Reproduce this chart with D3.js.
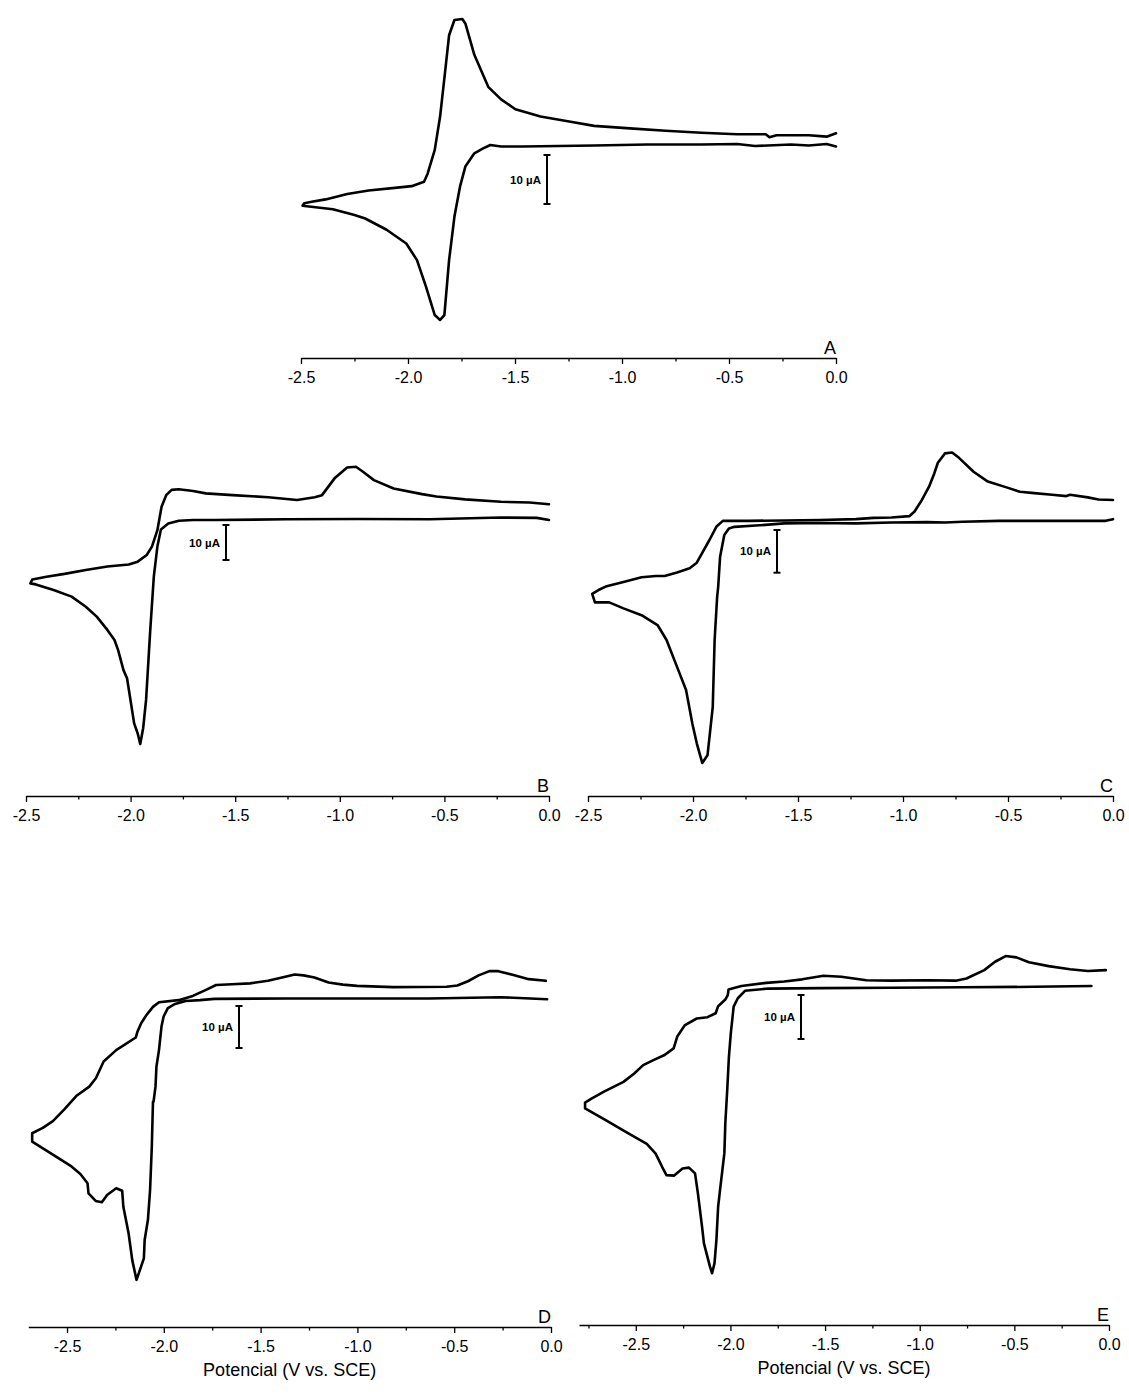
<!DOCTYPE html>
<html>
<head>
<meta charset="utf-8">
<script src="https://cdn.jsdelivr.net/npm/d3@7"></script>
<style>
  html, body { margin: 0; padding: 0; background: #fff; }
  svg { display: block; }
  text { font-family: "Liberation Sans", Arial, sans-serif; fill: #000; }
</style>
</head>
<body>
<svg id="chart" width="1129" height="1394"></svg>
<script>
// ---------------- DATA (potential in V vs. SCE, current in µA; one full sweep per panel) ----------------
const potA = [0.00,-0.044,-0.127,-0.21,-0.378,-0.462,-0.629,-0.88,-1.13,-1.298,
  -1.465,-1.565,-1.615,-1.649,-1.69,-1.732,-1.757,-1.783,-1.808,-1.83,
  -1.85,-1.875,-1.916,-1.958,-2.008,-2.1,-2.2,-2.25,-2.351,-2.493,
  -2.485,-2.45,-2.385,-2.284,-2.184,-2.05,-1.983,-1.925,-1.908,-1.875,
  -1.85,-1.824,-1.808,-1.783,-1.746,-1.732,-1.69,-1.649,-1.624,-1.565,
  -1.498,-1.381,-1.247,-1.13,-0.963,-0.796,-0.629,-0.462,-0.328,-0.311,
  -0.278,-0.127,-0.044,0.0];
const curA = [-0.3,0.2,-0.1,0.1,-0.2,0.2,0.1,0.1,-0.1,-0.2,
  -0.3,-0.3,0,-0.7,-1.7,-4.4,-8.5,-14.6,-23.5,-34.7,
  -35.7,-34.7,-28.9,-23.5,-20.1,-17.3,-15.0,-14.3,-13.1,-12.4,
  -11.9,-11.6,-11.1,-10.0,-9.3,-8.7,-8.4,-7.5,-5.8,-1.0,
  5.8,16.0,22.4,25.5,25.7,24.8,18.4,14.3,11.8,9.3,
  7.3,5.8,4.8,3.9,3.4,2.9,2.5,2.2,2.2,1.6,
  2.0,2.0,1.7,2.4];

const potB = [0.0,-0.058,-0.229,-0.571,-0.913,-1.256,-1.598,-1.70,-1.769,-1.82,
  -1.855,-1.872,-1.889,-1.906,-1.926,-1.94,-1.954,-1.966,-1.983,-2.017,
  -2.034,-2.06,-2.077,-2.111,-2.162,-2.214,-2.282,-2.368,-2.453,-2.479,
  -2.47,-2.402,-2.316,-2.214,-2.111,-2.009,-1.966,-1.923,-1.898,-1.872,
  -1.852,-1.83,-1.804,-1.77,-1.701,-1.641,-1.513,-1.342,-1.204,-1.12,
  -1.085,-1.025,-0.965,-0.923,-0.889,-0.837,-0.743,-0.607,-0.538,-0.401,
  -0.23,-0.093,0.0];
const curB = [0,0.6,0.7,0.2,0.3,0.2,0,0,-0.2,-1.0,
  -2.7,-7.6,-16.2,-31.4,-51.4,-59.5,-64.0,-61.0,-58.1,-45.2,
  -42.9,-37.1,-34.3,-31.4,-27.6,-24.8,-21.9,-20.0,-18.4,-18.1,
  -17.0,-16.2,-15.4,-14.3,-13.3,-12.7,-11.9,-10.0,-7.6,-2.9,
  3.8,7.1,8.6,8.8,8.3,7.6,7.1,6.5,5.7,6.5,
  7.1,11.9,15.0,15.2,13.8,11.4,9.0,7.4,6.7,5.9,
  5.2,5.0,4.5];

const potC = [0.0,-0.035,-0.205,-0.375,-0.545,-0.715,-0.8,-0.885,-1.055,-1.225,
  -1.395,-1.565,-1.701,-1.803,-1.829,-1.851,-1.871,-1.88,-1.885,-1.897,
  -1.906,-1.931,-1.956,-1.982,-2.003,-2.033,-2.076,-2.126,-2.169,-2.245,
  -2.331,-2.399,-2.467,-2.48,
  -2.45,-2.416,-2.331,-2.245,-2.177,-2.135,-2.076,-2.016,-1.982,-1.948,
  -1.923,-1.889,-1.858,-1.736,-1.565,-1.395,-1.225,-1.14,-1.055,-0.97,
  -0.945,-0.91,-0.876,-0.851,-0.834,-0.8,-0.766,-0.732,-0.664,-0.596,
  -0.511,-0.443,-0.375,-0.29,-0.222,-0.205,-0.12,-0.069,0.0];
const curC = [0.2,-0.2,-0.2,-0.2,-0.2,-0.4,-0.6,-0.5,-0.6,-0.8,
  -0.7,-0.8,-1.3,-1.6,-2.0,-3.5,-8.6,-15.6,-18.0,-28.1,
  -43.8,-55.1,-56.9,-52.3,-47.7,-39.8,-34.4,-28.1,-24.6,-22.3,
  -20.7,-19.3,-19.3,-17.3,
  -16.4,-15.6,-14.5,-13.4,-13.1,-13.1,-12.3,-11.3,-10.0,-7.0,
  -4.8,-1.6,-0.2,-0.2,-0.1,0,0.2,0.5,0.6,0.9,
  2.0,4.7,7.8,10.9,13.4,15.6,15.8,14.5,11.3,9.0,
  7.7,6.6,6.3,5.9,5.6,5.9,5.3,4.8,4.7];

const potD = [-0.02,-0.263,-0.632,-1.001,-1.37,-1.739,-1.813,-1.887,-1.942,-1.979,
  -2.001,-2.012,-2.025,-2.038,-2.043,-2.053,-2.056,-2.062,-2.071,-2.082,
  -2.099,-2.103,-2.141,-2.163,-2.182,-2.209,-2.215,-2.246,-2.293,-2.32,
  -2.352,-2.389,-2.394,-2.431,-2.477,-2.569,-2.68,-2.68,
  -2.625,-2.573,-2.514,-2.449,-2.385,-2.351,-2.333,-2.311,-2.246,-2.145,
  -2.136,-2.117,-2.089,-2.056,-2.025,-1.924,-1.85,-1.785,-1.73,-1.647,
  -1.555,-1.462,-1.389,-1.324,-1.278,-1.222,-1.149,-1.075,-1.001,-0.817,
  -0.54,-0.484,-0.429,-0.374,-0.318,-0.272,-0.189,-0.115,-0.027];
const curD = [0,0.5,0.2,0.2,0.2,0.1,-0.2,-0.4,-1.1,-2.1,
  -4.1,-6.5,-12.1,-16.0,-20.8,-24.4,-24.4,-35.1,-45.4,-52.5,
  -57.3,-61.7,-66.8,-62.1,-55.7,-49.4,-45.6,-45.0,-46.6,-48.3,
  -48.0,-46.2,-43.8,-41.6,-39.8,-37.1,-33.9,-31.9,
  -30.6,-29.0,-26.2,-22.9,-20.8,-18.8,-17.0,-14.8,-12.1,-9.1,
  -7.7,-5.7,-3.7,-1.8,-0.7,-0.2,0.8,2.2,3.4,3.6,
  3.8,4.4,5.2,5.9,5.7,5.2,4.0,3.5,3.2,2.9,
  3.0,3.3,4.3,5.7,6.7,6.7,5.7,4.8,4.4];

const potE = [-0.093,-0.395,-0.772,-1.15,-1.527,-1.80,-1.923,-1.961,-1.983,-1.998,
  -2.008,-2.017,-2.027,-2.032,-2.055,-2.065,-2.074,-2.084,-2.097,-2.108,
  -2.14,-2.15,-2.172,-2.187,-2.219,-2.253,-2.297,-2.338,-2.361,-2.395,
  -2.442,-2.555,-2.659,-2.768,-2.768,
  -2.734,-2.668,-2.565,-2.508,-2.461,-2.404,-2.348,-2.3,-2.281,-2.24,
  -2.178,-2.121,-2.078,-2.065,-2.027,-2.014,-2.01,-1.942,-1.81,-1.716,
  -1.621,-1.508,-1.414,-1.282,-1.15,-0.961,-0.81,-0.753,-0.659,-0.602,
  -0.546,-0.489,-0.423,-0.319,-0.206,-0.112,-0.017];
const curE = [0.4,0.2,0.1,0,-0.1,-0.2,-0.7,-2.4,-4.3,-10.4,
  -15.7,-23.3,-30.8,-37.6,-46.0,-49.8,-57.3,-62.6,-64.9,-63.4,
  -58.1,-54.3,-46.7,-42.2,-40.9,-41.1,-42.7,-42.6,-40.7,-37.7,
  -35.5,-32.7,-30.1,-27.4,-26.1,
  -25.2,-23.6,-21.4,-19.5,-17.6,-16.4,-15.3,-13.8,-11.1,-8.5,
  -7.0,-6.7,-5.8,-4.2,-2.7,-1.7,-0.4,0.4,1.1,1.4,
  1.9,2.7,2.5,1.7,1.6,1.7,1.6,2.1,4.0,5.9,
  7.2,6.9,5.8,4.9,4.2,3.8,4.0];

const majorTicks = [-2.5,-2.0,-1.5,-1.0,-0.5,0.0];
const minorTicksAD = [-2.25,-1.75,-1.25,-0.75,-0.25];
const minorTicksE = [-2.75,-2.25,-1.75,-1.25,-0.75,-0.25];
const panelLetters = ["A","B","C","D","E"];
const scaleBarText = "10 µA";
const scaleBarValue = 10;
const axisTitle = "Potencial (V vs. SCE)";

// ---------------- LAYOUT ----------------
const panels = [
  {letter:panelLetters[0], pot:potA, cur:curA, dom:[-2.5,0], xr:[301,836], axisY:358, y0:145, k:4.9,  barX:547, barTop:-2.04, minor:minorTicksAD, title:false},
  {letter:panelLetters[1], pot:potB, cur:curB, dom:[-2.5,0], xr:[26,549],  axisY:796, y0:520, k:3.5,  barX:226, barTop:-1.43, minor:minorTicksAD, title:false},
  {letter:panelLetters[2], pot:potC, cur:curC, dom:[-2.5,0], xr:[588,1113],axisY:796, y0:520, k:4.27, barX:777, barTop:-2.34, minor:minorTicksAD, title:false},
  {letter:panelLetters[3], pot:potD, cur:curD, dom:[-2.7,0], xr:[28.3,551],axisY:1327,y0:999.3,k:4.2, barX:239, barTop:-1.6,  minor:minorTicksAD, title:true},
  {letter:panelLetters[4], pot:potE, cur:curE, dom:[-2.8,0], xr:[579,1109],axisY:1325,y0:987.7,k:4.4, barX:801, barTop:-1.66, minor:minorTicksE,  title:true}
];

const svg = d3.select("#chart");

panels.forEach(p => {
  const x = d3.scaleLinear().domain(p.dom).range(p.xr);
  const y = d3.scaleLinear().domain([0, 10]).range([p.y0, p.y0 - 10 * p.k]);
  const g = svg.append("g");

  // curve
  const pts = p.pot.map((v, i) => [v, p.cur[i]]);
  g.append("path")
    .datum(pts)
    .attr("fill", "none")
    .attr("stroke", "#000")
    .attr("stroke-width", 2.6)
    .attr("stroke-linejoin", "round")
    .attr("stroke-linecap", "round")
    .attr("d", d3.line().x(d => x(d[0])).y(d => y(d[1])));

  // x axis (major)
  const ax = g.append("g")
    .attr("transform", `translate(0,${p.axisY})`)
    .call(d3.axisBottom(x).tickValues(majorTicks).tickSize(6).tickSizeOuter(0).tickPadding(8)
      .tickFormat(d => d.toFixed(1)));
  ax.select(".domain").attr("stroke", "#000").attr("stroke-width", 1.3);
  ax.selectAll(".tick line").attr("stroke", "#000").attr("stroke-width", 1.3);
  ax.selectAll(".tick text").style("font-family", "'Liberation Sans', Arial, sans-serif").style("font-size", "16px").attr("fill", "#000");

  // minor ticks
  const mx = g.append("g")
    .attr("transform", `translate(0,${p.axisY})`)
    .call(d3.axisBottom(x).tickValues(p.minor).tickSize(3.5).tickSizeOuter(0).tickFormat(""));
  mx.select(".domain").remove();
  mx.selectAll(".tick line").attr("stroke", "#000").attr("stroke-width", 1.3);

  // panel letter
  g.append("text")
    .attr("x", x(0))
    .attr("y", p.axisY - 4)
    .attr("text-anchor", "end")
    .style("font-size", "18px")
    .text(p.letter);

  // axis title
  if (p.title) {
    g.append("text")
      .attr("x", (p.xr[0] + p.xr[1]) / 2)
      .attr("y", p.axisY + 49)
      .attr("text-anchor", "middle")
      .style("font-size", "18px")
      .text(axisTitle);
  }

  // scale bar
  const yT = y(p.barTop), yB = y(p.barTop - scaleBarValue);
  const sb = g.append("g").attr("stroke", "#000").attr("stroke-width", 2);
  sb.append("line").attr("x1", p.barX).attr("x2", p.barX).attr("y1", yT).attr("y2", yB);
  sb.append("line").attr("x1", p.barX - 3.5).attr("x2", p.barX + 3.5).attr("y1", yT).attr("y2", yT);
  sb.append("line").attr("x1", p.barX - 3.5).attr("x2", p.barX + 3.5).attr("y1", yB).attr("y2", yB);
  g.append("text")
    .attr("x", p.barX - 6)
    .attr("y", (yT + yB) / 2)
    .attr("dy", "0.35em")
    .attr("text-anchor", "end")
    .style("font-size", "11.5px")
    .style("font-weight", "bold")
    .text(scaleBarText);
});
</script>
</body>
</html>
